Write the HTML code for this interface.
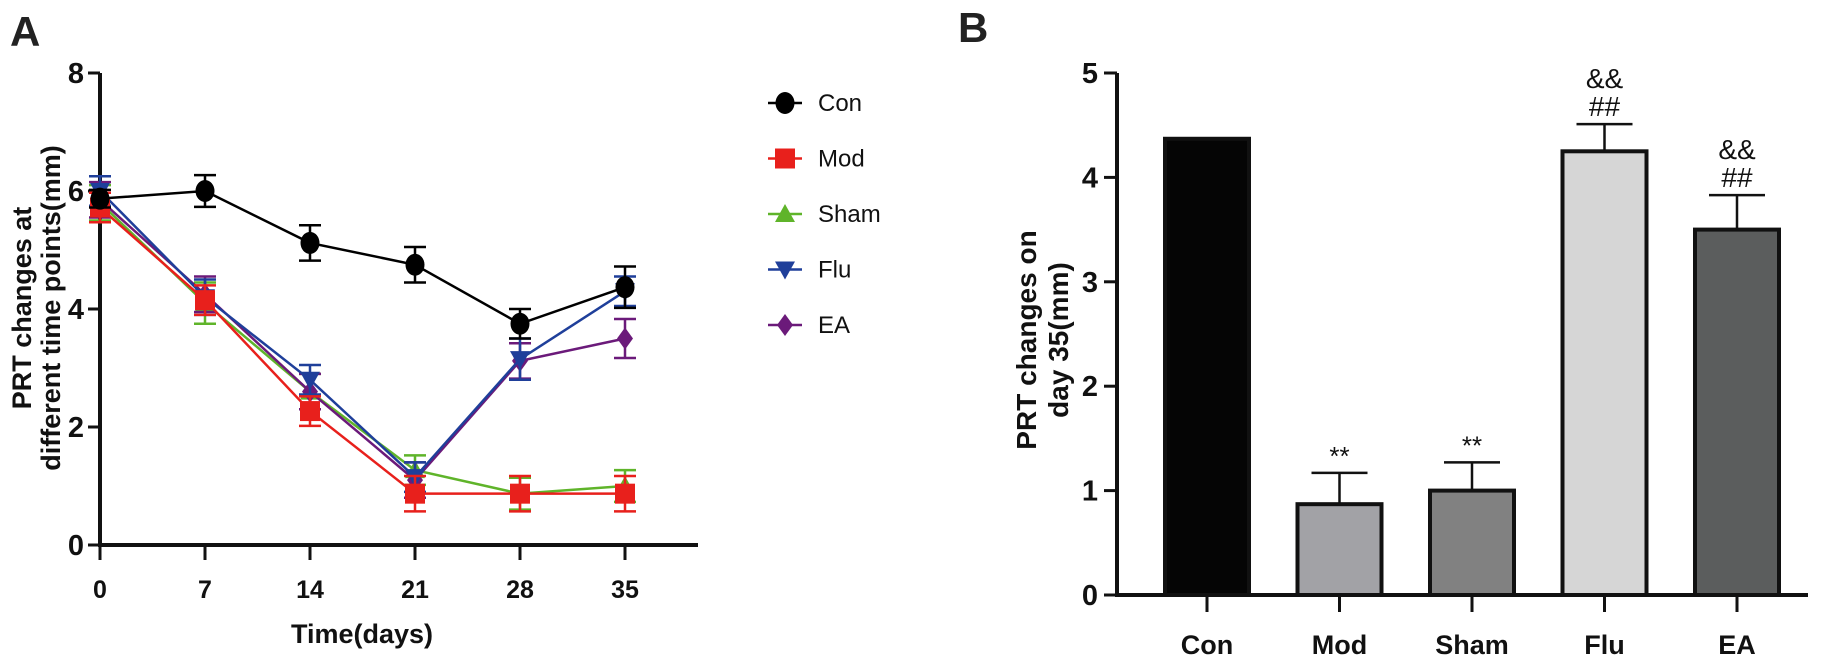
<!DOCTYPE html>
<html><head><meta charset="utf-8">
<style>
html,body{margin:0;padding:0;background:#fff;}
svg{display:block;font-family:"Liberation Sans Narrow","Liberation Sans",sans-serif;}
.t{font-weight:bold;fill:#111;}
</style></head>
<body>
<svg id="fig" width="1831" height="662" viewBox="0 0 1831 662" xmlns="http://www.w3.org/2000/svg">
<text x="10" y="46" font-family="Liberation Sans, sans-serif" font-size="42" font-weight="bold" fill="#222">A</text>
<text x="958" y="42" font-family="Liberation Sans, sans-serif" font-size="42" font-weight="bold" fill="#222">B</text>
<g id="A"></g>
<g id="B"></g>
</svg>
<script>
const NS="http://www.w3.org/2000/svg";
// ---- Panel A data ----
const days=[0,7,14,21,28,35];
const yTicksA=[0,2,4,6,8];
const seriesNames=["Con","Mod","Sham","Flu","EA"];
const conVals=[5.87,6.0,5.12,4.75,3.75,4.37];
const conErr=[0.15,0.27,0.3,0.3,0.25,0.35];
const modVals=[5.72,4.15,2.27,0.87,0.87,0.87];
const modErr=[0.25,0.25,0.25,0.3,0.3,0.3];
const shamVals=[5.8,4.1,2.6,1.27,0.87,1.0];
const shamErr=[0.3,0.35,0.3,0.25,0.27,0.27];
const fluVals=[6.0,4.2,2.8,1.15,3.15,4.3];
const fluErr=[0.25,0.3,0.25,0.25,0.35,0.25];
const eaVals=[5.85,4.25,2.6,1.1,3.12,3.5];
const eaErr=[0.3,0.3,0.3,0.3,0.3,0.33];
// ---- Panel B data ----
const groups=["Con","Mod","Sham","Flu","EA"];
const barVals=[4.37,0.87,1.0,4.25,3.5];
const barErr=[0,0.3,0.27,0.26,0.33];
const barSig=[[],["**"],["**"],["##","&&"],["##","&&"]];
const yTicksB=[0,1,2,3,4,5];

function mk(p,tag,attrs,txt){const e=document.createElementNS(NS,tag);for(const k in attrs)e.setAttribute(k,attrs[k]);if(txt!==undefined)e.textContent=txt;p.appendChild(e);return e;}

// Panel A
const A=document.getElementById('A');
const xA=d=>100+d*15, yA=v=>545-v*59;
mk(A,'line',{x1:100,y1:yA(8),x2:100,y2:547,stroke:'#111','stroke-width':4,});
mk(A,'line',{x1:98,y1:545,x2:698,y2:545,stroke:'#111','stroke-width':4,});
yTicksA.forEach(v=>{
  const tk=mk(A,'line',{x1:88,y1:yA(v),x2:100,y2:yA(v),stroke:'#111','stroke-width':3});
  
  
  const lb=mk(A,'text',{x:84,y:yA(v)+10,'text-anchor':'end','font-size':29,class:'t'},String(v));
  
  
});
days.forEach(d=>{
  const tk=mk(A,'line',{x1:xA(d),y1:545,x2:xA(d),y2:560,stroke:'#111','stroke-width':3});
  
  
  const lb=mk(A,'text',{x:xA(d),y:598,'text-anchor':'middle','font-size':25,class:'t'},String(d));
  
  
});
mk(A,'text',{x:362,y:643,'text-anchor':'middle','font-size':27,class:'t','font-family':'Liberation Sans Narrow, Liberation Sans, sans-serif',},'Time(days)');
const yt=mk(A,'text',{transform:'translate(31,308) rotate(-90)','text-anchor':'middle','font-size':27,class:'t','font-family':'Liberation Sans, sans-serif',});
mk(yt,'tspan',{x:0,dy:0},'PRT changes at');
mk(yt,'tspan',{x:0,dy:29},'different time points(mm)');

const colors=["#000000","#e8201c","#5fb42a","#1f3f9a","#6b1a7a"];
const vals=[conVals,modVals,shamVals,fluVals,eaVals];
const errs=[conErr,modErr,shamErr,fluErr,eaErr];
function marker(g,i,x,y,s){
  let m;
  if(i===0) m=mk(g,'ellipse',{cx:x,cy:y,rx:s*0.95,ry:s*1.1,fill:colors[i]});
  else if(i===1) m=mk(g,'rect',{x:x-s,y:y-s,width:2*s,height:2*s,fill:colors[i]});
  else if(i===2) m=mk(g,'polygon',{points:`${x},${y-s} ${x-s},${y+s*0.8} ${x+s},${y+s*0.8}`,fill:colors[i]});
  else if(i===3) m=mk(g,'polygon',{points:`${x},${y+s} ${x-s},${y-s*0.8} ${x+s},${y-s*0.8}`,fill:colors[i]});
  else m=mk(g,'polygon',{points:`${x},${y-s*1.1} ${x+s*0.8},${y} ${x},${y+s*1.1} ${x-s*0.8},${y}`,fill:colors[i]});
  return m;
}
const order=[2,4,3,1,0];
order.forEach(i=>{
  const g=mk(A,'g',{});
  
  
  const pts=days.map((d,k)=>xA(d)+','+yA(vals[i][k])).join(' ');
  const ln=mk(g,'polyline',{points:pts,fill:'none',stroke:colors[i],'stroke-width':2.5});
  
  
  days.forEach((d,k)=>{
    const x=xA(d),y1=yA(vals[i][k]+errs[i][k]),y2=yA(vals[i][k]-errs[i][k]);
    const eb=mk(g,'path',{d:`M${x},${y1}V${y2}M${x-11},${y1}H${x+11}M${x-11},${y2}H${x+11}`,stroke:colors[i],'stroke-width':2.5,fill:'none'});
    
    
    const m=marker(g,i,x,yA(vals[i][k]),10);
    
    
  });
});
// legend
seriesNames.forEach((n,i)=>{
  const y=103+i*55.5;
  const g=mk(A,'g',{});
  
  
  mk(g,'line',{x1:768,y1:y,x2:802,y2:y,stroke:colors[i],'stroke-width':2.5});
  marker(g,i,785,y,10);
  mk(g,'text',{x:818,y:y+8,'font-size':24,'font-family':'Liberation Sans, sans-serif',fill:'#111'},n);
});

// Panel B
const B=document.getElementById('B');
const yB=v=>595-v*104.4;
const xB=i=>1207+i*132.5;
const bw=84;
mk(B,'line',{x1:1117,y1:yB(5),x2:1117,y2:597,stroke:'#111','stroke-width':4,});
mk(B,'line',{x1:1115,y1:595,x2:1808,y2:595,stroke:'#111','stroke-width':4,});
yTicksB.forEach(v=>{
  const tk=mk(B,'line',{x1:1104,y1:yB(v),x2:1117,y2:yB(v),stroke:'#111','stroke-width':3});
  
  
  const lb=mk(B,'text',{x:1098,y:yB(v)+10,'text-anchor':'end','font-size':29,class:'t'},String(v));
  
  
});
const fills=["#050505","#a2a2a6","#818181","#d6d6d6","#5b5d5d"];
groups.forEach((gname,i)=>{
  const cx=xB(i), v=barVals[i];
  const g=mk(B,'g',{});
  
  
  if(barErr[i]>0){
    const ye=yB(v+barErr[i]);
    const eb=mk(g,'path',{d:`M${cx},${yB(v)}V${ye}M${cx-28},${ye}H${cx+28}`,stroke:'#111','stroke-width':2.5,fill:'none'});
    
    
    barSig[i].forEach((s,k)=>{
      const st=mk(g,'text',{x:cx,y:ye-8-k*28,'text-anchor':'middle','font-size':s==='**'?26:28,'font-family':'Liberation Sans, sans-serif',fill:'#111'},s);
      
      
    });
  }
  const r=mk(g,'rect',{x:cx-bw/2,y:yB(v),width:bw,height:595-yB(v),fill:fills[i],stroke:'#111','stroke-width':4});
  
  
  const tk=mk(g,'line',{x1:cx,y1:595,x2:cx,y2:612,stroke:'#111','stroke-width':3});
  
  
  const lb=mk(g,'text',{x:cx,y:654,'text-anchor':'middle','font-size':27,class:'t'},gname);
  
  
});
const yt2=mk(B,'text',{transform:'translate(1036,340) rotate(-90)','text-anchor':'middle','font-size':28,class:'t','font-family':'Liberation Sans, sans-serif',});
mk(yt2,'tspan',{x:0,dy:0},'PRT changes on');
mk(yt2,'tspan',{x:0,dy:32},'day 35(mm)');
</script>
</body></html>
